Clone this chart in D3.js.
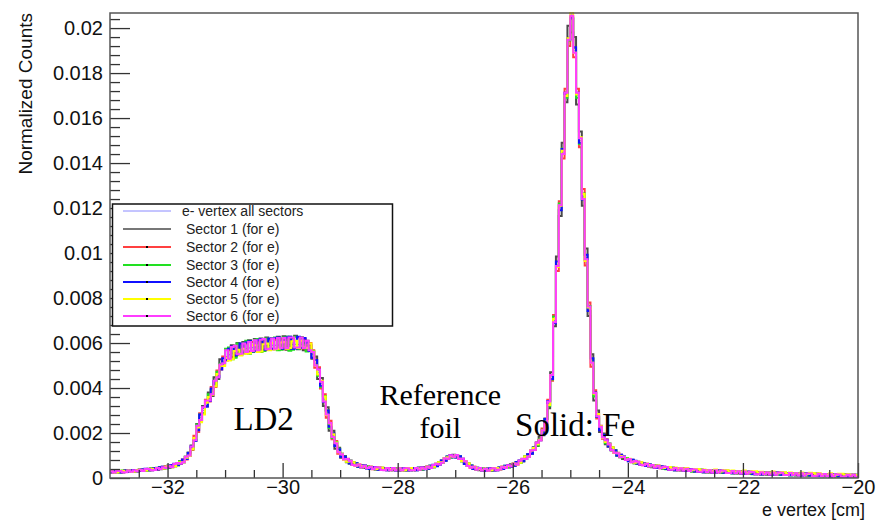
<!DOCTYPE html>
<html>
<head>
<meta charset="utf-8">
<script src="https://cdn.jsdelivr.net/npm/d3@7"></script>
<style>
  html, body { margin: 0; padding: 0; background: #fff; }
  svg { display: block; }
</style>
</head>
<body>
<svg id="chart" width="878" height="520"></svg>
<script>
// Electron vertex z distribution, normalized per sector.
// Histogram binning: 260 bins of 0.05 cm from -33 cm to -20 cm.
const binLow = -33;
const binWidth = 0.05;

// Bin contents in units of 1e-5 (normalized counts).
const countUnit = 1e-5;

const allSectors = [
  27,27,28,28,29,30,30,31,32,33,
  34,35,36,37,38,40,41,43,45,47,
  50,53,57,62,68,76,88,105,135,175,
  220,270,300,330,355,385,420,460,495,520,
  540,548,555,560,565,568,572,575,578,580,
  582,584,585,587,588,589,590,590,591,591,
  592,592,593,593,594,594,594,592,588,580,
  550,510,470,420,350,290,235,190,150,120,
  100,88,78,70,64,59,55,52,49,47,
  45,44,43,42,41,40,40,39,39,38,
  38,38,38,38,39,39,40,41,42,44,
  46,49,53,58,65,73,82,90,96,98,
  96,90,80,68,58,50,45,41,39,37,
  36,36,37,38,40,42,45,48,52,56,
  60,65,72,80,90,100,115,130,150,175,
  205,250,330,450,700,950,1200,1450,1700,1960,
  2060,1900,1700,1500,1250,980,750,520,370,280,
  220,185,162,145,130,117,106,97,90,84,
  79,75,71,67,64,61,58,55,53,51,
  49,47,45,44,42,41,40,39,38,37,
  36,35,34,33,33,32,31,30,30,29,
  29,28,28,27,27,26,26,25,25,24,
  24,23,23,22,22,21,21,21,20,20,
  19,19,19,18,18,17,17,17,16,16,
  16,15,15,15,14,14,14,13,13,13,
  12,12,12,11,11,11,10,10,10,10
];
const sector1 = [
  31,24,33,26,27,34,28,36,30,29,
  38,31,40,34,42,37,45,39,50,44,
  55,48,62,58,74,70,95,98,145,165,
  240,255,320,318,380,365,448,440,528,500,
  570,525,590,540,600,548,605,555,612,560,
  618,560,620,566,625,570,622,572,628,575,
  630,570,628,575,632,572,626,568,610,590,
  530,540,440,445,320,315,210,210,130,135,
  90,98,70,78,58,66,50,58,44,52,
  40,49,38,47,36,45,35,44,34,43,
  33,43,33,43,34,44,35,46,37,49,
  41,54,48,63,60,78,77,95,91,103,
  91,95,75,73,53,55,40,46,34,42,
  31,41,32,43,35,47,40,53,47,61,
  55,70,67,85,84,106,108,137,142,185,
  190,265,310,470,675,985,1165,1490,1670,2010,
  1980,1960,1660,1540,1210,1020,720,550,345,300,
  205,198,150,153,122,124,99,103,84,89,
  74,81,66,72,59,66,53,60,48,56,
  44,52,40,48,37,46,35,44,33,42,
  31,40,29,38,28,37,26,35,25,34,
  24,33,23,32,22,31,21,30,20,29,
  19,28,18,27,17,26,16,26,15,25,
  14,24,14,23,13,22,12,22,11,21,
  11,20,10,20,9,19,9,18,8,18,
  7,17,7,16,6,16,5,15,5,15
];
const sector2 = [
  24,30,26,31,25,33,27,35,29,36,
  31,39,33,41,34,44,37,48,41,52,
  46,58,52,67,63,82,82,112,125,188,
  205,288,285,348,340,405,405,478,482,540,
  522,568,538,580,548,592,555,598,562,605,
  565,608,568,612,570,615,572,614,575,618,
  572,620,575,622,578,625,576,618,568,600,
  568,490,492,398,372,268,255,172,165,108,
  108,82,86,64,70,54,60,47,54,43,
  50,39,48,38,46,36,45,35,44,34,
  43,34,43,34,44,35,45,37,47,40,
  51,45,58,54,70,68,88,86,101,94,
  102,85,86,63,64,46,50,37,44,33,
  41,32,42,34,45,38,50,44,57,51,
  65,60,77,75,96,95,122,124,158,168,
  220,238,348,432,725,920,1230,1420,1730,1920,
  2050,1870,1730,1470,1285,945,780,495,390,265,
  232,175,172,138,137,111,112,92,95,80,
  84,70,76,63,69,57,63,51,58,47,
  54,43,50,40,47,38,45,35,43,33,
  41,31,39,29,38,28,36,26,35,25,
  34,24,33,23,32,22,31,21,30,20,
  29,19,28,18,27,17,26,17,25,16,
  24,15,24,14,23,13,22,13,21,12,
  21,12,20,11,19,10,19,9,18,9,
  17,8,17,8,16,7,15,6,15,6
];
const sector3 = [
  30,31,25,25,33,27,34,35,29,30,
  38,39,32,33,43,37,46,47,41,42,
  56,58,52,56,74,70,95,112,128,168,
  238,282,288,320,372,392,410,472,508,512,
  575,580,528,535,598,552,600,610,552,560,
  615,618,560,565,620,570,622,625,568,570,
  625,628,566,570,628,574,625,600,562,572,
  565,525,455,405,365,300,222,178,160,130,
  108,95,72,64,70,66,50,47,55,52,
  50,49,39,38,46,45,36,35,44,43,
  43,43,34,34,44,35,45,46,38,40,
  52,55,48,53,71,68,88,96,91,94,
  102,97,75,63,64,56,41,37,44,42,
  41,42,33,34,45,38,50,54,48,52,
  66,71,67,75,97,95,122,137,145,170,
  215,262,320,438,718,940,1220,1465,1690,1945,
  2040,1910,1690,1485,1265,970,765,530,362,272,
  228,192,155,140,136,122,100,92,95,89,
  84,80,66,62,69,66,53,50,58,56,
  54,52,40,39,47,46,35,34,43,42,
  41,40,29,28,38,37,26,25,35,34,
  34,33,23,22,32,31,21,20,30,29,
  29,28,18,17,27,26,16,16,25,25,
  24,23,14,13,23,22,12,12,21,21,
  21,20,10,10,19,19,9,8,18,18,
  17,17,7,6,16,16,5,5,15,15
];
const sector4 = [
  24,31,32,25,26,34,27,35,36,30,
  31,40,41,34,35,44,38,48,50,44,
  46,58,63,58,64,82,84,112,140,165,
  212,282,312,318,342,398,430,448,482,532,
  525,575,585,545,548,598,558,602,608,562,
  565,612,618,570,572,620,575,622,625,575,
  575,625,628,575,576,628,578,622,600,565,
  535,525,482,410,338,300,228,198,142,128,
  94,95,85,64,58,66,50,58,56,42,
  40,49,48,37,36,45,35,44,44,33,
  33,43,43,33,34,44,35,46,47,39,
  41,55,59,52,60,78,77,96,101,92,
  91,97,86,62,53,56,40,46,44,32,
  31,42,43,33,35,47,40,54,57,50,
  55,71,78,75,84,106,108,137,157,168,
  195,262,342,440,688,962,1190,1462,1712,1950,
  2045,1915,1712,1490,1238,992,742,532,380,272,
  212,192,170,140,124,122,100,103,96,80,
  74,81,77,63,59,66,53,60,58,47,
  44,52,50,40,37,46,35,44,43,33,
  31,40,39,29,28,37,26,35,35,25,
  24,33,33,23,22,31,21,30,30,20,
  19,28,28,18,17,26,16,26,25,16,
  14,24,24,14,13,22,12,22,21,12,
  11,20,20,11,9,19,9,18,18,9,
  7,17,17,8,6,16,5,15,15,6
];
const sector5 = [
  30,24,25,31,32,27,33,28,29,35,
  37,32,33,40,41,37,44,40,42,50,
  53,48,52,64,70,70,90,98,128,178,
  225,248,282,335,360,370,408,462,500,498,
  535,522,528,565,570,545,575,552,555,590,
  590,560,562,595,598,568,600,572,575,602,
  605,575,578,608,610,578,610,580,578,598,
  562,500,460,432,362,280,242,195,158,115,
  106,80,72,76,70,54,60,55,50,44,
  50,41,40,47,46,37,45,41,42,37,
  43,35,35,43,44,36,45,42,42,42,
  51,46,50,63,70,70,88,92,98,95,
  102,86,76,74,64,48,50,45,40,34,
  41,33,34,43,45,39,50,49,52,53,
  65,60,68,86,96,96,122,135,150,170,
  212,240,325,458,708,938,1210,1455,1698,1955,
  2067,1890,1705,1515,1262,965,758,512,375,285,
  230,178,160,150,137,112,110,98,93,82,
  86,72,68,72,70,59,63,58,58,52,
  56,46,44,49,49,42,47,43,44,39,
  44,35,34,40,40,34,38,34,35,31,
  38,29,29,35,35,29,33,29,30,27,
  33,25,25,30,30,24,28,25,25,22,
  29,21,21,26,26,20,24,21,21,18,
  25,18,18,23,22,17,21,17,18,15,
  21,15,15,19,19,14,17,14,15,13
];
const sector6 = [
  30,24,32,31,26,26,33,28,35,30,
  37,31,40,40,35,36,44,40,48,44,
  54,49,62,67,64,70,94,100,140,168,
  232,258,315,345,345,372,432,448,505,510,
  568,530,582,588,550,552,598,560,605,565,
  612,568,615,618,572,574,620,575,622,578,
  622,578,625,625,580,580,625,578,610,568,
  560,500,482,428,340,282,245,182,155,115,
  106,82,84,76,58,54,60,47,54,44,
  50,40,48,47,36,35,45,35,44,34,
  43,34,43,43,34,34,45,37,47,40,
  51,45,58,63,60,68,88,86,101,94,
  102,85,86,74,53,46,50,37,44,33,
  41,32,42,43,35,38,50,44,57,52,
  65,60,77,86,84,95,122,124,157,168,
  212,242,340,458,692,942,1212,1440,1712,1948,
  2055,1890,1712,1510,1240,972,762,512,378,274,
  228,180,168,150,125,112,110,93,95,80,
  84,70,76,72,59,57,63,51,58,47,
  54,43,50,49,37,38,45,35,43,33,
  41,31,39,38,28,28,36,26,35,25,
  34,24,33,32,22,22,31,21,30,20,
  29,19,28,27,17,17,26,17,25,16,
  24,15,24,23,13,13,22,13,21,12,
  21,11,20,20,9,10,19,9,18,9,
  17,8,17,16,6,7,15,6,15,6
];

const seriesNames = [
  "e- vertex all sectors",
  "Sector 1 (for e)",
  "Sector 2 (for e)",
  "Sector 3 (for e)",
  "Sector 4 (for e)",
  "Sector 5 (for e)",
  "Sector 6 (for e)"
];
const seriesValues = [allSectors, sector1, sector2, sector3, sector4, sector5, sector6];
const seriesColors = ["#8a8aff", "#4a4a4a", "#ff4040", "#22e022", "#1010ff", "#ffff00", "#ff3cff"];
const seriesWidths = [1, 2, 2, 2, 2, 2, 2];
const seriesMarker = [false, false, true, true, true, true, true];

const xTickValues = [-32, -30, -28, -26, -24, -22, -20];
const xTickLabels = ["\u221232", "\u221230", "\u221228", "\u221226", "\u221224", "\u221222", "\u221220"];
const yTickValues = [0, 0.002, 0.004, 0.006, 0.008, 0.01, 0.012, 0.014, 0.016, 0.018, 0.02];
const yTickLabels = ["0", "0.002", "0.004", "0.006", "0.008", "0.01", "0.012", "0.014", "0.016", "0.018", "0.02"];

const annotations = [
  { text: "LD2", x: -30.33, y: 0.00212, size: 33 },
  { text: "Reference", x: -27.26, y: 0.00324, size: 30 },
  { text: "foil", x: -27.26, y: 0.00178, size: 30 },
  { text: "Solid: Fe", x: -25.96, y: 0.00187, size: 33, anchor: "start" }
];

// ---- layout ----
const svg = d3.select("#chart");
const plot = { left: 110, right: 858, top: 13, bottom: 478 };
const sansFont = "'Liberation Sans', Arial, Helvetica, sans-serif";
const serifFont = "'Liberation Serif', 'Times New Roman', serif";

const x = d3.scaleLinear().domain([binLow, -20]).range([plot.left, plot.right]);
const y = d3.scaleLinear().domain([0, 0.02067]).range([plot.bottom, plot.top]);

svg.append("defs").append("clipPath").attr("id", "plotClip")
  .append("rect")
  .attr("x", plot.left).attr("y", plot.top - 1)
  .attr("width", plot.right - plot.left).attr("height", plot.bottom - plot.top + 1);

// ---- histograms (step outlines) ----
const stepLine = d3.line()
  .x(d => x(d[0]))
  .y(d => y(d[1]))
  .curve(d3.curveStepAfter);

function histPoints(vals) {
  const pts = vals.map((v, i) => [binLow + i * binWidth, v * countUnit]);
  pts.push([binLow + vals.length * binWidth, vals[vals.length - 1] * countUnit]);
  return pts;
}

const histLayer = svg.append("g").attr("clip-path", "url(#plotClip)");
seriesValues.forEach((vals, k) => {
  histLayer.append("path")
    .attr("d", stepLine(histPoints(vals)))
    .attr("fill", "none")
    .attr("stroke", seriesColors[k])
    .attr("stroke-width", seriesWidths[k])
    .attr("stroke-linejoin", "miter");
});

// ---- axes ----
const axisColor = "#333";

const xMinor = d3.range(-32.5, -20, 0.5).filter(v => !xTickValues.includes(v));
svg.append("g")
  .attr("transform", `translate(0,${plot.bottom})`)
  .call(d3.axisBottom(x).tickValues(xMinor).tickSize(-8).tickFormat(""))
  .call(g => g.select(".domain").remove())
  .call(g => g.selectAll("line").attr("stroke", axisColor).attr("stroke-width", 1.3));

svg.append("g")
  .attr("transform", `translate(0,${plot.bottom})`)
  .call(d3.axisBottom(x).tickValues(xTickValues).tickSize(-15).tickPadding(2)
    .tickFormat((d, i) => xTickLabels[i]))
  .call(g => g.select(".domain").remove())
  .call(g => g.selectAll("line").attr("stroke", axisColor).attr("stroke-width", 1.3))
  .call(g => g.selectAll("text")
    .attr("font-family", sansFont).attr("font-size", 20).attr("fill", "#111"));

const yMinor = d3.range(0.0004, 0.0207, 0.0004).filter(v => Math.abs(v / 0.002 - Math.round(v / 0.002)) > 1e-6);
svg.append("g")
  .attr("transform", `translate(${plot.left},0)`)
  .call(d3.axisLeft(y).tickValues(yMinor).tickSize(-10).tickFormat(""))
  .call(g => g.select(".domain").remove())
  .call(g => g.selectAll("line").attr("stroke", axisColor).attr("stroke-width", 1.3));

svg.append("g")
  .attr("transform", `translate(${plot.left},0)`)
  .call(d3.axisLeft(y).tickValues(yTickValues).tickSize(-20).tickPadding(7)
    .tickFormat((d, i) => yTickLabels[i]))
  .call(g => g.select(".domain").remove())
  .call(g => g.selectAll("line").attr("stroke", axisColor).attr("stroke-width", 1.3))
  .call(g => g.selectAll("text")
    .attr("font-family", sansFont).attr("font-size", 20).attr("fill", "#111"));

// frame
svg.append("rect")
  .attr("x", plot.left).attr("y", plot.top)
  .attr("width", plot.right - plot.left).attr("height", plot.bottom - plot.top)
  .attr("fill", "none").attr("stroke", "#555").attr("stroke-width", 1.5);

// axis titles
svg.append("text")
  .attr("x", 865).attr("y", 516)
  .attr("text-anchor", "end")
  .attr("font-family", sansFont).attr("font-size", 18).attr("fill", "#111")
  .text("e vertex [cm]");

svg.append("text")
  .attr("transform", "translate(32,13) rotate(-90)")
  .attr("text-anchor", "end")
  .attr("font-family", sansFont).attr("font-size", 19).attr("fill", "#111")
  .text("Normalized Counts");

// ---- annotations ----
annotations.forEach(a => {
  svg.append("text")
    .attr("x", x(a.x)).attr("y", y(a.y))
    .attr("text-anchor", a.anchor || "middle")
    .attr("font-family", serifFont).attr("font-size", a.size).attr("fill", "#000")
    .text(a.text);
});

// ---- legend ----
const legend = svg.append("g");
legend.append("rect")
  .attr("x", 112.5).attr("y", 204)
  .attr("width", 280).attr("height", 122)
  .attr("fill", "#fff").attr("stroke", "#111").attr("stroke-width", 1.5);

const legendRows = [211, 229, 247, 265, 282, 299, 316];
seriesNames.forEach((name, k) => {
  const ly = legendRows[k];
  legend.append("line")
    .attr("x1", 123).attr("x2", 171).attr("y1", ly).attr("y2", ly)
    .attr("stroke", k === 1 ? "#777" : seriesColors[k]).attr("stroke-width", k === 0 ? 1 : 2);
  if (seriesMarker[k]) {
    legend.append("rect")
      .attr("x", 146).attr("y", ly - 1).attr("width", 2).attr("height", 2)
      .attr("fill", "#000");
  }
  legend.append("text")
    .attr("x", k === 0 ? 182 : 186).attr("y", ly)
    .attr("dy", "0.35em")
    .attr("font-family", sansFont).attr("font-size", 14).attr("fill", "#222")
    .text(name);
});
</script>
</body>
</html>
